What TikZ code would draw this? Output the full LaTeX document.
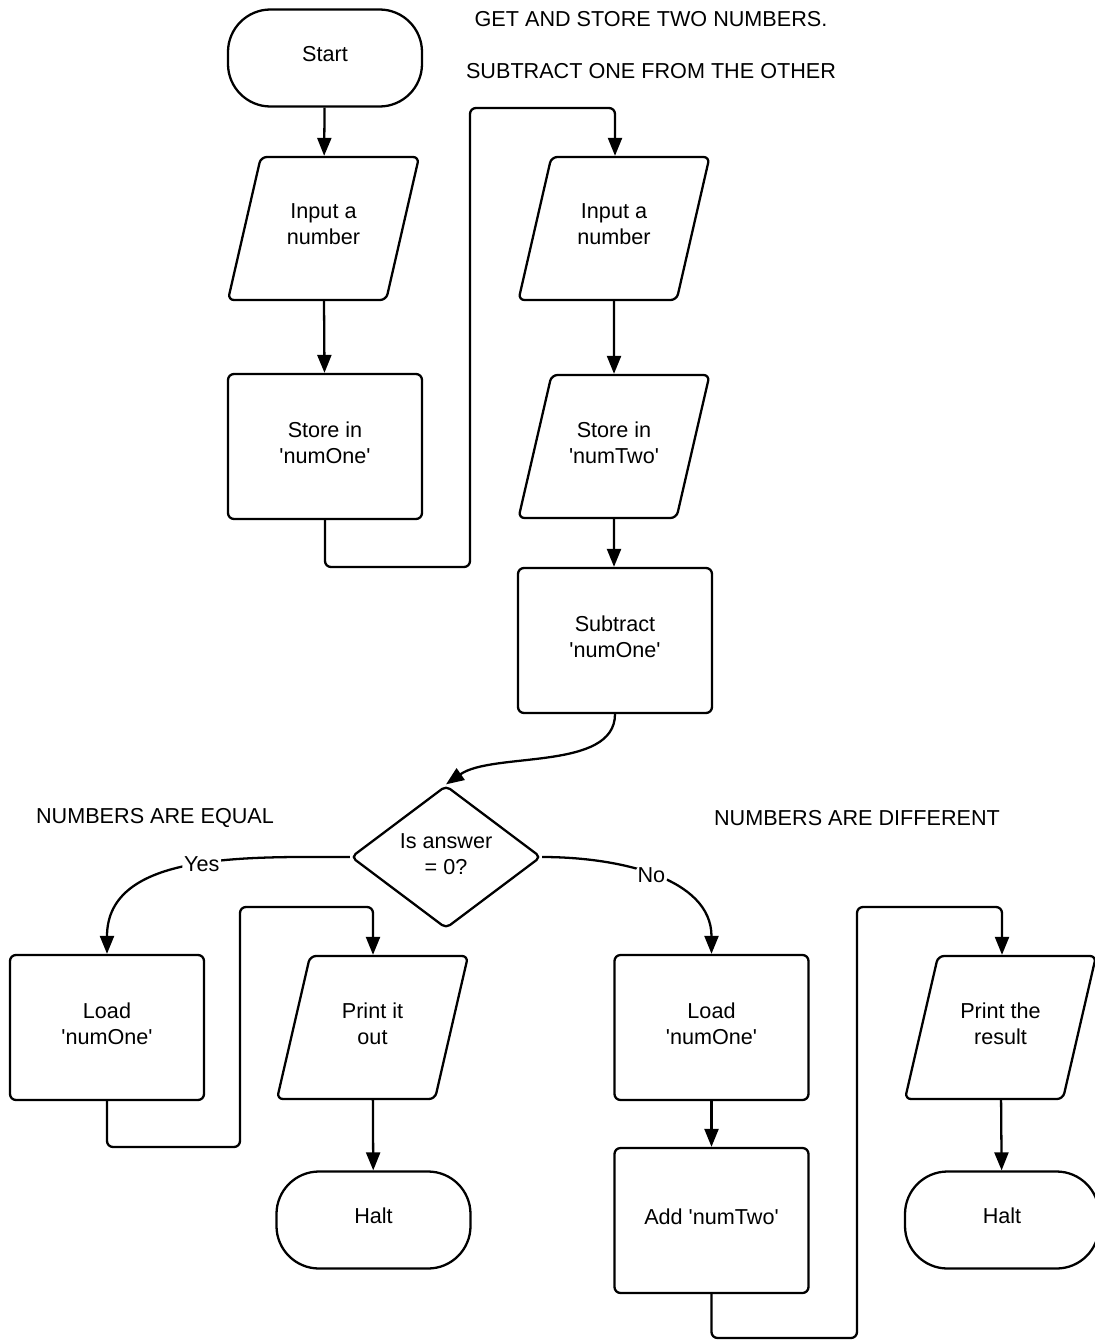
\documentclass[tikz,border=0pt]{standalone}
\usepackage{fontspec}
\setmainfont{Liberation Sans}
\usepackage{tikz}
\usetikzlibrary{arrows.meta, shapes.geometric, positioning}
\newcommand{\vname}[1]{\textquotesingle#1\textquotesingle}
\tikzstyle{terminal} = [rectangle, rounded corners=0.85cm, draw=black, line width=1.3pt,
                        text depth=0.16cm, minimum width=3.88cm, minimum height=1.94cm, align=center]
\tikzstyle{process} = [rectangle, rounded corners=0.12cm, draw=black, line width=1.3pt,
                       text depth=0.16cm, minimum width=3.88cm, minimum height=2.9cm, align=center]
\tikzstyle{io} = [trapezium, trapezium left angle=76.5, trapezium right angle=103.5,
                  trapezium stretches body, rounded corners=0.12cm, draw=black, line width=1.3pt,
                  inner xsep=0.1cm, inner ysep=0.88cm, text depth=0.16cm,
                  minimum width=3.82cm, minimum height=2.86cm, align=center]
\tikzstyle{decision} = [diamond, rounded corners=0.1cm, draw=black, line width=1.3pt, inner sep=0,
                        text depth=0.12cm, minimum width=3.8cm, minimum height=2.86cm, align=center]
\tikzstyle{line} = [draw=black, line width=1.3pt, rounded corners=0.12cm]
\tikzstyle{flow} = [line, -{Triangle[length=0.36cm, width=0.28cm]}]

\begin{document}
\begin{tikzpicture}[font=\fontsize{12.3}{14.8}\selectfont]
				\useasboundingbox (0, 0) rectangle (21.88, -26.82);

				\node (Title) at (13.02, -0.38) {GET AND STORE TWO NUMBERS.};
				\node (SubTitle) at (13.02, -1.42) {SUBTRACT ONE FROM THE OTHER};

				% first number
				\node (Start) [terminal] at (6.5, -1.16) {Start};
				\node (InOne) [io] at (6.47, -4.57) {Input a\\number};
				\draw [flow] (Start) -- (InOne);

				\node (StoreOne) [process] at (6.5, -8.93) {Store in\\\vname{numOne}};
				\draw [flow] (InOne) -- (StoreOne);

				\coordinate (BendA) at (6.5, -11.34);
				\coordinate (BendB) at (9.4, -11.34);
				\coordinate (BendC) at (9.4, -2.16);
				\coordinate (BendD) at (12.3, -2.16);

				% second number
				\node (InTwo) [io] at (12.28, -4.57) {Input a\\number};
				\draw [flow] (StoreOne) -- (BendA) -- (BendB) -- (BendC) -- (BendD) -- (BendD |- InTwo.north);

				\node (StoreTwo) [io] at (12.28, -8.93) {Store in\\\vname{numTwo}};
				\draw [flow] (InTwo) -- (StoreTwo);

				\node (Sub) [process] at (12.3, -12.81) {Subtract\\\vname{numOne}};
				\draw [flow] (StoreTwo) -- (Sub.north -| StoreTwo.south);

				\node (Check) [decision] at (8.92, -17.14) {Is answer\\= 0?};
				\draw [flow] (Sub.south) to[out=-90, in=35, looseness=0.8] (Check.north);

				% numbers are equal
				\node (Equal) at (3.1, -16.36) {NUMBERS ARE EQUAL};
				\node (LoadOne) [process] at (2.14, -20.55) {Load\\\vname{numOne}};
				\draw [flow] (Check.west) to[out=180, in=90]
					node [pos=0.46, fill=white, inner sep=1pt] {Yes} (LoadOne.north);

				\node (PrintOne) [io] at (7.45, -20.55) {Print it\\out};
				\coordinate (EqA) at (2.14, -22.94);
				\coordinate (EqB) at (4.8, -22.94);
				\coordinate (EqC) at (4.8, -18.14);
				\coordinate (EqD) at (7.46, -18.14);
				\draw [flow] (LoadOne) -- (EqA) -- (EqB) -- (EqC) -- (EqD) -- (EqD |- PrintOne.north);

				\node (HaltOne) [terminal] at (7.47, -24.4) {Halt};
				\draw [flow] (PrintOne) -- (HaltOne);

				% numbers are different
				\node (Differ) at (17.14, -16.36) {NUMBERS ARE DIFFERENT};
				\node (LoadTwo) [process] at (14.23, -20.55) {Load\\\vname{numOne}};
				\draw [flow] (Check.east) to[out=0, in=90]
					node [pos=0.48, fill=white, inner sep=1pt] {No} (LoadTwo.north);

				\node (Add) [process] at (14.23, -24.41) {Add \vname{numTwo}};
				\draw [flow] (LoadTwo) -- (Add);

				\node (PrintTwo) [io] at (20.01, -20.55) {Print the\\result};
				\coordinate (DiA) at (14.23, -26.76);
				\coordinate (DiB) at (17.14, -26.76);
				\coordinate (DiC) at (17.14, -18.14);
				\coordinate (DiD) at (20.04, -18.14);
				\draw [flow] (Add) -- (DiA) -- (DiB) -- (DiC) -- (DiD) -- (DiD |- PrintTwo.north);

				\node (HaltTwo) [terminal] at (20.04, -24.4) {Halt};
				\draw [flow] (PrintTwo) -- (HaltTwo);
			\end{tikzpicture}
\end{document}
